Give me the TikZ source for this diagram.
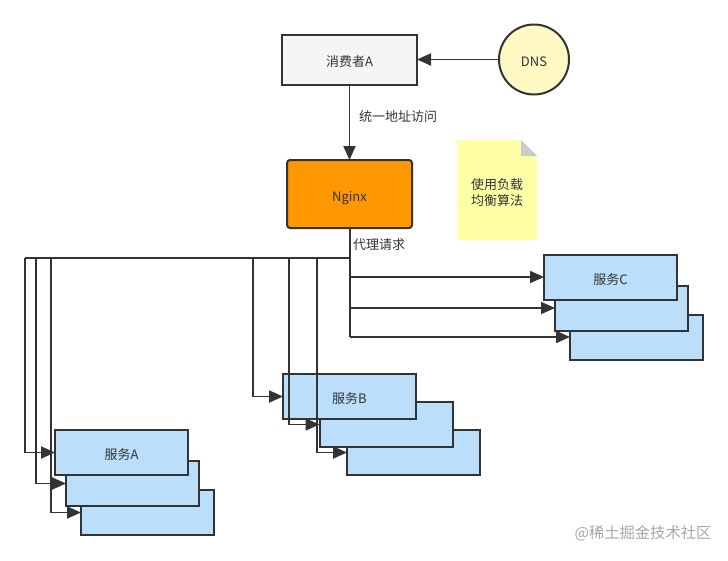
\documentclass[tikz,border=0pt]{standalone}
\usepackage{fontspec}
\setmainfont{Noto Sans CJK SC}
\usetikzlibrary{arrows.meta}
\definecolor{linegray}{HTML}{333333}
\definecolor{serviceblue}{HTML}{BBDEFB}
\definecolor{nginxorange}{HTML}{FF9800}
\definecolor{dnsyellow}{HTML}{FFF9C4}
\definecolor{noteyellow}{HTML}{FFFFA8}
\tikzset{
  box/.style={draw=linegray, line width=2pt, outer sep=0pt, inner sep=0pt, text=linegray, text height=14pt, text depth=0pt, font=\fontsize{13}{16}\selectfont},
  service/.style={box, fill=serviceblue, minimum width=133pt, minimum height=45pt},
  link/.style={draw=linegray, line width=1.9pt, -{Triangle[length=14pt,width=12pt]}},
  trunk/.style={draw=linegray, line width=2pt},
  tag/.style={text=linegray, inner sep=0pt, font=\fontsize{13}{16}\selectfont}
}
\begin{document}
\begin{tikzpicture}[x=1pt, y=-1pt]
        \useasboundingbox (0,0) rectangle (728,560);

        % Top row
        \node[box, fill=black!4, minimum width=135pt, minimum height=50pt] (consumer) at (349.5,59.5) {消费者A};
        \node[box, circle, fill=dnsyellow, minimum size=70pt] (dns) at (534,59.5) {DNS};
        \node[box, fill=nginxorange, rounded corners=3pt, minimum width=125pt, minimum height=68pt] (nginx) at (349.5,194) {Nginx};

        % Note
        \fill[noteyellow] (457,140) -- (521,140) -- (537,156) -- (537,240) -- (457,240) -- cycle;
        \fill[black!20] (521,140) -- (537,156) -- (521,156) -- cycle;
        \node[tag, align=center] (note) at (497,193) {使用负载\\均衡算法};

        % Service C
        \node[service] (c3) at (636.5,337) {};
        \node[service] (c2) at (621.5,308) {};
        \node[service] (c1) at (610.5,277) {服务C};

        % Service B
        \node[service] (b3) at (413.5,452.5) {};
        \node[service] (b2) at (386,424.5) {};
        \node[service] (b1) at (349.5,396.5) {服务B};

        % Service A
        \node[service] (a3) at (147.5,512.5) {};
        \node[service] (a2) at (132.5,483.5) {};
        \node[service] (a1) at (121.5,452.5) {服务A};

        % Labels
        \node[tag, anchor=west] (access) at (359,117) {统一地址访问};
        \node[tag, anchor=west] (proxy) at (353,245) {代理请求};

        % Branch points
        \coordinate (hub) at (349.5,258);
        \coordinate (hubc1) at (349.5,277);
        \coordinate (hubc2) at (349.5,308);
        \coordinate (hubc3) at (349.5,337);
        \coordinate (left) at (25,258);
        \coordinate (hubb1) at (253,258);
        \coordinate (hubb2) at (289,258);
        \coordinate (hubb3) at (317,258);
        \coordinate (huba2) at (36,258);
        \coordinate (huba3) at (51,258);

        % Top connectors
        \draw[link] (dns) -- (consumer);
        \draw[link] (consumer) -- (nginx);

        % Trunk
        \draw[trunk] (nginx) -- (hub) -- (left);
        \draw[trunk] (hub) -- (hubc3);

        % To service C
        \draw[link] (hubc1) -- (c1);
        \draw[link] (hubc2) -- (c2);
        \draw[link] (hubc3) -- (c3);

        % To service B
        \draw[link] (hubb1) |- (b1);
        \draw[link] (hubb2) |- (b2);
        \draw[link] (hubb3) |- (b3);

        % To service A
        \draw[link] (left) |- (a1);
        \draw[link] (huba2) |- (a2);
        \draw[link] (huba3) |- (a3);

        % Watermark
        \node[inner sep=0pt, text=black!35, font=\fontsize{15.3}{18}\selectfont] (mark) at (643,533) {@稀土掘金技术社区};
\end{tikzpicture}
\end{document}
